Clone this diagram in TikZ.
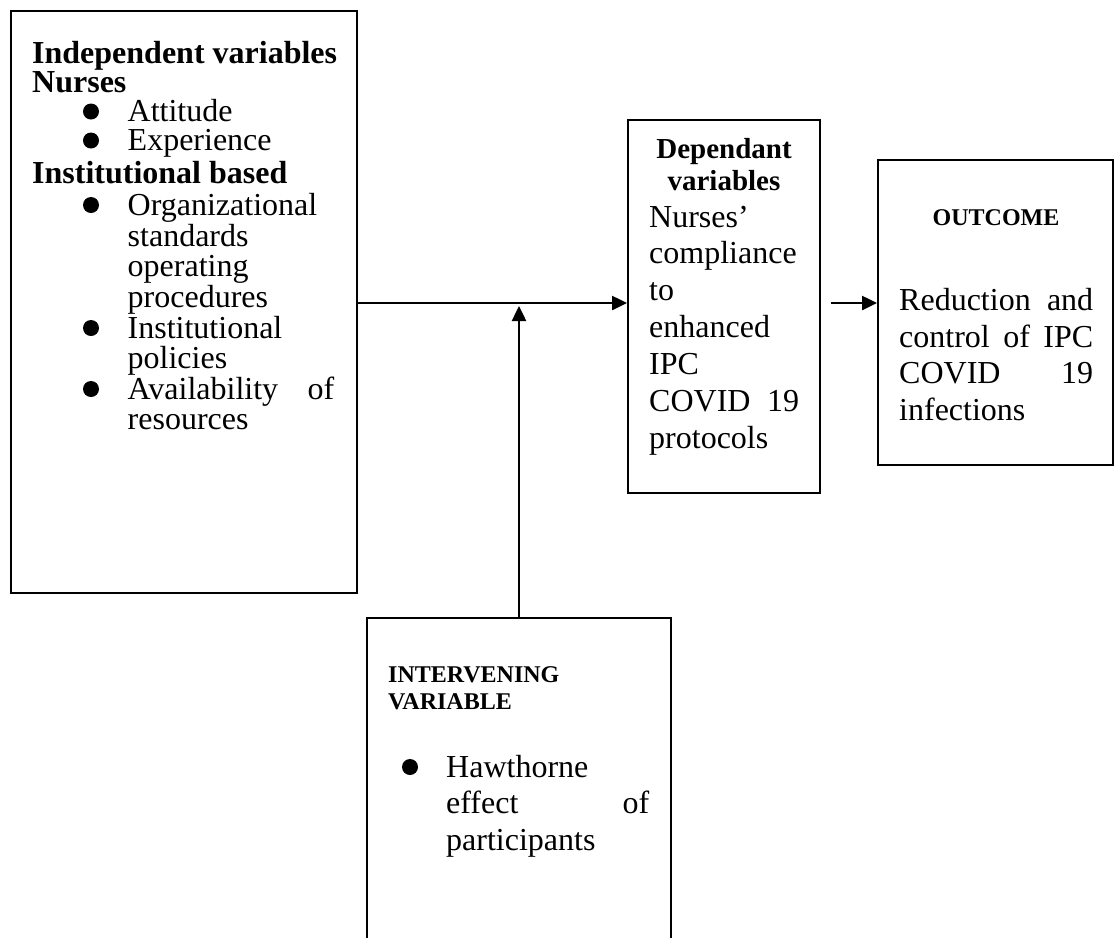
\documentclass[tikz,border=0pt]{standalone}
\usepackage{fontspec}
\setmainfont{Liberation Serif}
\usetikzlibrary{arrows.meta}
\begin{document}
\begin{tikzpicture}[x=1pt,y=-1pt,
  box/.style={draw, line width=2pt, inner sep=0pt},
  openbox/.style={draw=none, inner sep=0pt},
  txt/.style={anchor=base west, inner sep=0pt, font=\fontsize{32}{37}\selectfont},
  hd/.style={anchor=base west, inner sep=0pt, font=\bfseries\fontsize{32}{37}\selectfont},
  hdc/.style={anchor=base, inner sep=0pt, font=\bfseries\fontsize{29}{33}\selectfont},
  hds/.style={anchor=base west, inner sep=0pt, font=\bfseries\fontsize{24}{28}\selectfont},
  bul/.style={circle, fill, inner sep=0pt, minimum size=16pt},
  conn/.style={line width=2.5pt, -{Triangle[length=15pt,width=14pt]}}]
\useasboundingbox (0,0) rectangle (1114,938);

% boxes
\node[box, minimum width=346pt, minimum height=582pt] (indep) at (184,302) {};
\node[box, minimum width=192pt, minimum height=373pt] (dep) at (724,306.5) {};
\node[box, minimum width=235pt, minimum height=305pt] (out) at (995.5,312.5) {};
\node[openbox, minimum width=304pt, minimum height=320pt] (inter) at (519,778) {};
\draw[line width=2pt] (inter.south west) -- (inter.north west) -- (inter.north east) -- (inter.south east);

% independent variables
\node[hd] (i1) at (32,63) {Independent variables};
\node[hd] (i2) at (32,92.5) {Nurses};
\node[bul] (ib1) at (91,111.5) {};
\node[txt] (i3) at (127.5,121.5) {Attitude};
\node[bul] (ib2) at (91,140.5) {};
\node[txt] (i4) at (127.5,150.5) {Experience};
\node[hd] (i5) at (32,183) {Institutional based};
\node[bul] (ib3) at (91,205) {};
\node[txt] (i6) at (127.5,215) {Organizational};
\node[txt] (i7) at (127.5,246) {standards};
\node[txt] (i8) at (127.5,276.5) {operating};
\node[txt] (i9) at (127.5,307) {procedures};
\node[bul] (ib4) at (91,328) {};
\node[txt] (i10) at (127.5,338) {Institutional};
\node[txt] (i11) at (127.5,368.5) {policies};
\node[bul] (ib5) at (91,389) {};
\node[txt] (i12) at (127.5,399) {\makebox[206.5pt][s]{Availability of}};
\node[txt] (i13) at (127.5,429.5) {resources};

% dependant variables
\node[hdc] (d1) at (724,158) {Dependant};
\node[hdc] (d2) at (724,190) {variables};
\node[txt] (d3) at (649,227) {Nurses’};
\node[txt] (d4) at (649,263.5) {compliance};
\node[txt] (d5) at (649,300) {to};
\node[txt] (d6) at (649,337) {enhanced};
\node[txt] (d7) at (649,374.5) {IPC};
\node[txt] (d8) at (649,411.5) {\makebox[150pt][s]{COVID 19}};
\node[txt] (d9) at (649,448) {protocols};

% outcome
\node[anchor=base, inner sep=0pt, font=\bfseries\fontsize{24}{28}\selectfont] (o1) at (996,225) {OUTCOME};
\node[txt] (o2) at (899,310) {\makebox[194pt][s]{Reduction and}};
\node[txt] (o3) at (899,347) {\makebox[194pt][s]{control of IPC}};
\node[txt] (o4) at (899,383.5) {\makebox[194pt][s]{COVID 19}};
\node[txt] (o5) at (899,420) {infections};

% intervening
\node[hds] (v1) at (388,682) {INTERVENING};
\node[hds] (v2) at (388,709) {VARIABLE};
\node[bul] (vb1) at (410,767) {};
\node[txt] (v3) at (446,777) {Hawthorne};
\node[txt] (v4) at (446,813.5) {\makebox[203pt][s]{effect of}};
\node[txt] (v5) at (446,850) {participants};

% connectors
\coordinate (hl) at (0,303);
\coordinate (tipv) at (0,306);
\coordinate (a2) at (831,303);
\draw[conn] (indep.east |- hl) -- (dep.west |- hl);
\draw[conn] (inter.north) -- (inter.north |- tipv);
\draw[conn] (a2) -- (out.west |- hl);
\end{tikzpicture}
\end{document}
